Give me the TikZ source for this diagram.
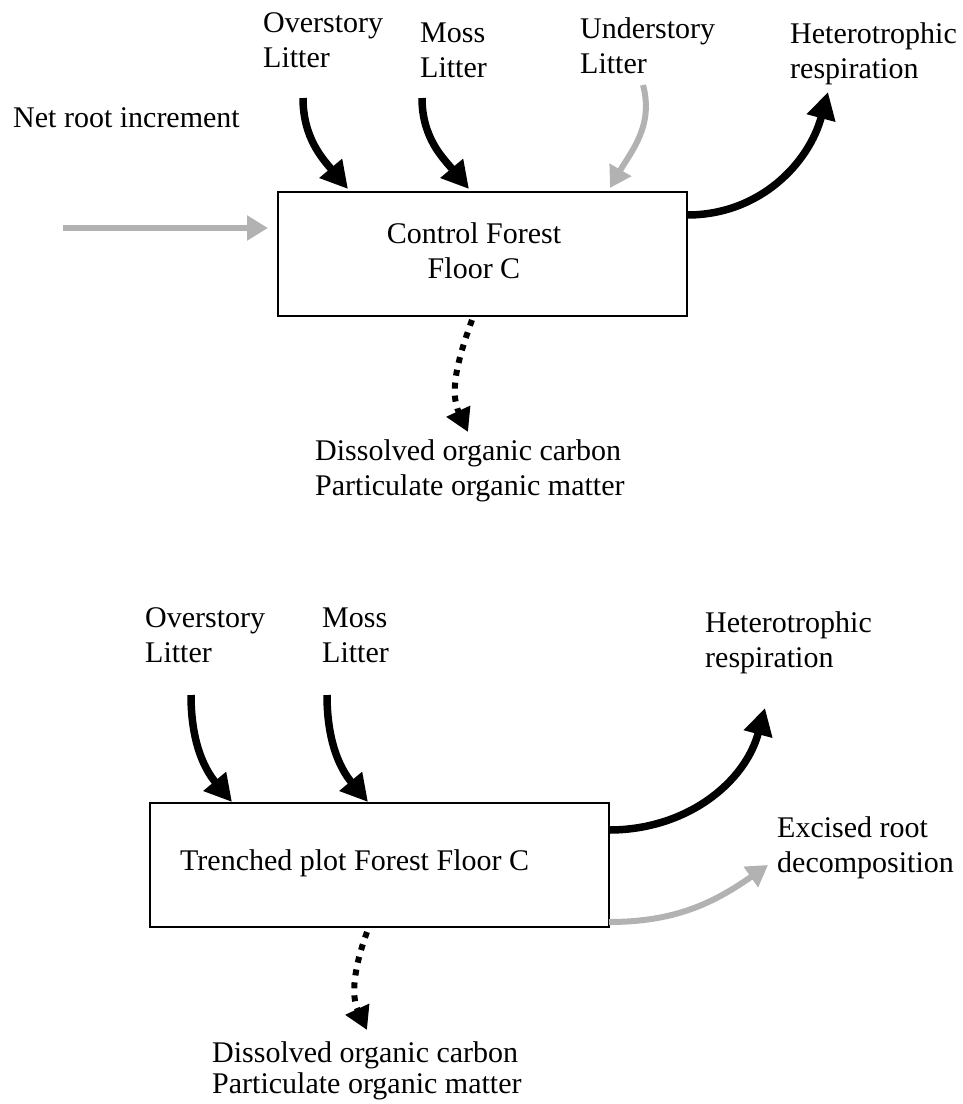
\documentclass[tikz,border=0pt]{standalone}
\usepackage{fontspec}
\setmainfont{Liberation Serif}
\usetikzlibrary{arrows.meta}
\begin{document}
\begin{tikzpicture}[x=1pt,y=1pt,
  lbl/.style={font=\fontsize{30}{35}\selectfont, inner sep=0pt, anchor=north west, align=left},
  boxst/.style={draw, line width=1.4pt, rectangle, inner sep=0pt},
  blk/.style={line width=7.5pt, -{Triangle[length=27pt,width=28pt]}},
  gry/.style={draw=gray!60, line width=6pt, -{Triangle[length=21pt,width=24pt,fill=gray!60]}},
  dsh/.style={line width=6pt, dash pattern=on 6pt off 7pt, -{Triangle[length=23pt,width=25pt]}}]
\useasboundingbox (0,0) rectangle (963,-1104);

% ---------- Control ----------
\node[boxst, minimum width=409pt, minimum height=124pt] (box1) at (482.5,-254) {};
\node[lbl, anchor=north, align=center] (t1) at (474,-222.5) {Control Forest\\Floor C};

\node[lbl] (net) at (13,-107.5) {Net root increment};
\node[lbl] (over1) at (263,-12.5) {Overstory\\Litter};
\node[lbl] (moss1) at (420,-22.5) {Moss\\Litter};
\node[lbl] (under1) at (580,-17.5) {Understory\\Litter};
\node[lbl] (het1) at (790,-22.5) {Heterotrophic\\respiration};
\node[lbl] (doc1) at (315,-439.5) {Dissolved organic carbon\\Particulate organic matter};

\coordinate (o1s) at (303,-98);  \coordinate (o1e) at (348,-189);
\coordinate (m1s) at (422,-98);  \coordinate (m1e) at (469,-189);
\coordinate (u1s) at (643,-85);  \coordinate (u1e) at (610,-188);
\coordinate (h1s) at (687,-215); \coordinate (h1e) at (828,-92);
\coordinate (n1s) at (63,-228);  \coordinate (n1e) at (268,-228);
\coordinate (d1s) at (472,-320); \coordinate (d1e) at (468,-432);

\draw[blk] (o1s) to[out=-90,in=130] (o1e);
\draw[blk] (m1s) to[out=-90,in=130] (m1e);
\draw[gry] (u1s) to[out=-75,in=60] (u1e);
\draw[blk] (h1s) to[out=0,in=-105] (h1e);
\draw[gry] (n1s) -- (n1e);
\draw[dsh] (d1s) to[out=-110,in=115] (d1e);

% ---------- Trenched ----------
\node[boxst, minimum width=459pt, minimum height=124pt] (box2) at (379.5,-865) {};
\node[lbl] (t2) at (180,-849.5) {Trenched plot Forest Floor C};

\node[lbl] (over2) at (145,-607.5) {Overstory\\Litter};
\node[lbl] (moss2) at (322,-607.5) {Moss\\Litter};
\node[lbl] (het2) at (705,-611.5) {Heterotrophic\\respiration};
\node[lbl] (exc) at (777,-816.5) {Excised root\\decomposition};
\node[lbl] (doc2) at (212,-1041.5) {Dissolved organic carbon\\[-4pt]Particulate organic matter};

\coordinate (o2s) at (191,-695); \coordinate (o2e) at (232,-802);
\coordinate (m2s) at (327,-695); \coordinate (m2e) at (368,-802);
\coordinate (h2s) at (609,-830); \coordinate (h2e) at (765,-708);
\coordinate (x2s) at (609,-922); \coordinate (x2e) at (768,-865);
\coordinate (d2s) at (367,-932); \coordinate (d2e) at (367,-1030);

\draw[blk] (o2s) to[out=-90,in=130] (o2e);
\draw[blk] (m2s) to[out=-90,in=130] (m2e);
\draw[blk] (h2s) to[out=0,in=-105] (h2e);
\draw[gry] (x2s) to[out=0,in=215] (x2e);
\draw[dsh] (d2s) to[out=-110,in=115] (d2e);
\end{tikzpicture}
\end{document}
